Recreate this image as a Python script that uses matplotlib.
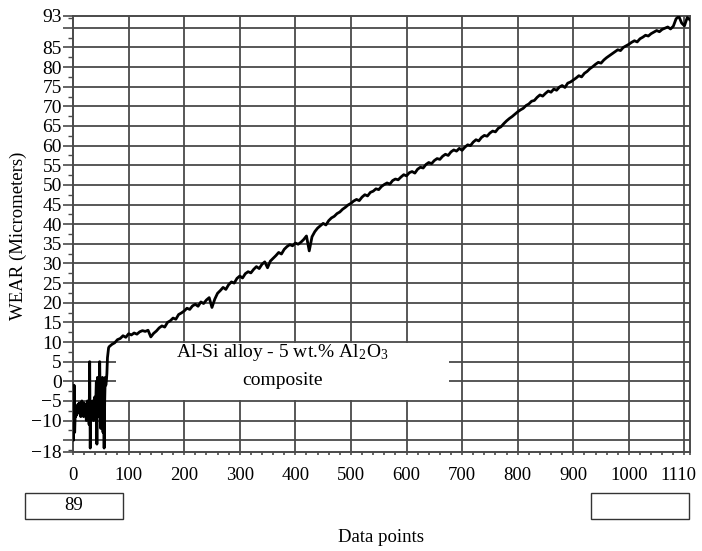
import matplotlib
matplotlib.use("Agg")
import matplotlib.pyplot as plt
import matplotlib.transforms as mtransforms
from matplotlib.patches import Rectangle

plt.rcParams['font.family'] = ['Liberation Serif', 'DejaVu Serif']
plt.rcParams['mathtext.fontset'] = 'stix'

# noisy start of the run (data points 0..64)
start_points = [0, 1, 2, 3, 4, 5, 6, 7, 8, 9, 10, 11, 12, 13, 14, 15, 16, 17, 18, 19,
                20, 21, 22, 23, 24, 25, 26, 27, 28, 29, 30, 31, 32, 33, 34, 35, 36, 37, 38, 39,
                40, 41, 42, 43, 44, 45, 46, 47, 48, 49, 50, 51, 52, 53, 54, 55, 56, 57, 58, 59,
                60, 61, 62, 64]
start_wear = [-12, -15, -1, -13, -8, -9, -7, -8.5, -6, -8, -7, -5.5, -8, -6, -9, -6.5, -5, -8, -6, -9,
              -5.5, -7, -6, -8, -10, -7, -5, -8, -6, -11, 5, -17, -6, -9, -7, -5, -8, -10, -6, -4,
              -7, -5, 0, -16, 1, -9, -4, -6, 5, -5, -12, -3, -6, 1, -13, -2, -17, -5, 1, -1,
              0, 2, 6, 8.5]

# steady wear part (every 5 data points)
run_points = [65, 70, 75, 80, 85, 90, 95, 100, 105, 110, 115, 120, 125, 130, 135, 140, 145, 150,
              155, 160, 165, 170, 175, 180, 185, 190, 195, 200, 205, 210, 215, 220, 225, 230,
              235, 240, 245, 250, 255, 260, 265, 270, 275, 280, 285, 290, 295, 300, 305, 310,
              315, 320, 325, 330, 335, 340, 345, 350, 355, 360, 365, 370, 375, 380, 385, 390,
              395, 400, 405, 410, 415, 420, 425, 430, 435, 440, 445, 450, 455, 460, 465, 470,
              475, 480, 485, 490, 495, 500, 505, 510, 515, 520, 525, 530, 535, 540, 545, 550,
              555, 560, 565, 570, 575, 580, 585, 590, 595, 600, 605, 610, 615, 620, 625, 630,
              635, 640, 645, 650, 655, 660, 665, 670, 675, 680, 685, 690, 695, 700, 705, 710,
              715, 720, 725, 730, 735, 740, 745, 750, 755, 760, 765, 770, 775, 780, 785, 790,
              795, 800, 805, 810, 815, 820, 825, 830, 835, 840, 845, 850, 855, 860, 865, 870,
              875, 880, 885, 890, 895, 900, 905, 910, 915, 920, 925, 930, 935, 940, 945, 950,
              955, 960, 965, 970, 975, 980, 985, 990, 995, 1000, 1005, 1010, 1015, 1020, 1025,
              1030, 1035, 1040, 1045, 1050, 1055, 1060, 1065, 1070, 1075, 1080, 1085, 1090,
              1095, 1100, 1105, 1110]
run_wear = [8.8, 9.4, 9.8, 10.6, 10.9, 11.6, 11.2, 12.1, 11.8, 12.3, 12.0, 12.6, 12.9, 12.7, 13.0,
            11.3, 12.2, 12.8, 13.6, 14.1, 13.8, 15.0, 15.4, 16.1, 15.8, 17.0, 17.4, 17.9, 18.6,
            18.3, 19.2, 19.6, 19.1, 20.2, 19.8, 20.7, 21.3, 18.8, 20.9, 22.4, 23.1, 23.9, 23.4,
            24.6, 25.3, 25.0, 26.2, 26.8, 26.3, 27.4, 27.9, 27.6, 28.5, 29.2, 28.7, 29.8, 30.4,
            28.9, 30.6, 31.3, 32.0, 32.8, 32.4, 33.6, 34.3, 34.8, 34.5, 35.2, 34.9, 35.4, 36.1,
            37.0, 33.2, 36.8, 38.1, 39.0, 39.6, 40.2, 39.8, 40.9, 41.6, 42.0, 42.7, 43.1, 43.8,
            44.3, 44.9, 45.3, 45.9, 46.3, 46.0, 46.9, 47.5, 47.2, 48.1, 48.4, 49.0, 48.8, 49.6,
            50.1, 50.5, 50.2, 51.1, 51.5, 51.3, 52.0, 52.6, 52.3, 53.1, 53.4, 53.0, 54.0, 54.5,
            54.3, 55.2, 55.7, 55.4, 56.2, 56.7, 56.5, 57.3, 57.8, 57.5, 58.4, 58.9, 58.6, 59.3,
            58.8, 59.6, 60.2, 60.0, 60.9, 61.5, 61.2, 62.1, 62.6, 62.4, 63.2, 63.7, 63.5, 64.4,
            64.8, 65.6, 66.3, 66.9, 67.4, 68.0, 68.6, 69.1, 69.5, 70.2, 70.6, 71.3, 71.5, 72.3,
            72.9, 72.6, 73.3, 73.9, 73.6, 74.4, 74.1, 74.9, 75.3, 74.8, 75.9, 76.2, 76.7, 77.2,
            77.8, 77.5, 78.4, 78.9, 79.6, 80.1, 80.7, 81.2, 81.0, 81.8, 82.4, 82.9, 83.4, 83.9,
            84.4, 84.2, 85.0, 85.4, 85.8, 86.3, 86.7, 86.4, 87.2, 87.6, 88.1, 87.9, 88.5, 88.9,
            89.3, 89.0, 89.6, 89.9, 90.2, 89.7, 90.4, 92.3, 92.9, 91.2, 90.5, 92.6, 92.0]

x_ticks = [0, 100, 200, 300, 400, 500, 600, 700, 800, 900, 1000, 1110]
y_ticks = [-18, -15, -10, -5, 0, 5, 10, 15, 20, 25, 30, 35, 40, 45, 50, 55, 60, 65, 70, 75, 80, 85, 90, 93]
y_labels = ['\u221218', '', '\u221210', '\u22125', '0', '5', '10', '15', '20', '25', '30', '35',
            '40', '45', '50', '55', '60', '65', '70', '75', '80', '85', '', '93']

W, H = 702, 551
fig = plt.figure(figsize=(W / 100, H / 100), dpi=100)
ax = fig.add_axes([73 / W, 1 - 452 / H, (690 - 73) / W, (452 - 16) / H])

gc = '#4a4a4a'
for xv in range(100, 1101, 100):
    ax.axvline(xv, color=gc, lw=1.3, zorder=1)
for yv in y_ticks[1:-1]:
    ax.axhline(yv, color=gc, lw=1.3, zorder=1)

# label box covering the grid
ax.add_patch(Rectangle((77, -4.7), 600, 14.4, facecolor='white', edgecolor='none', zorder=2))
ax.text(376, 7.3, r'Al-Si alloy - 5 wt.% Al$_{\mathregular{2}}$O$_{\mathregular{3}}$',
        ha='center', va='center', fontsize=14, zorder=3)
ax.text(376, 0.2, 'composite', ha='center', va='center', fontsize=14, zorder=3)

ax.plot(start_points + run_points, start_wear + run_wear, color='black', lw=2.0, zorder=4)

ax.set_xlim(0, 1110)
ax.set_ylim(-18, 93)
ax.set_xticks(x_ticks)
ax.set_xticks(range(0, 1110, 20), minor=True)
ax.set_yticks(y_ticks)
ax.set_yticklabels(y_labels)
ax.set_yticks([v / 2 for v in range(-35, 186, 5)], minor=True)

ax.tick_params(axis='y', which='major', length=7, width=1.2, color=gc, pad=1, labelsize=14)
ax.tick_params(axis='y', which='minor', length=3.5, width=1.0, color=gc)
ax.tick_params(axis='x', which='both', length=2.5, width=1.2, color=gc, pad=8, labelsize=13.5)
for sp in ax.spines.values():
    sp.set_color(gc)
    sp.set_linewidth(1.4)

# shift the last x label a bit to the left like the original
lab = ax.get_xticklabels()[-1]
lab.set_transform(lab.get_transform() + mtransforms.ScaledTranslation(-12 / 100, 0, fig.dpi_scale_trans))

fig.text(18 / W, 1 - 236 / H, 'WEAR (Micrometers)', rotation=90, ha='center', va='center', fontsize=13.5)
fig.text(381 / W, 1 - 538 / H, 'Data points', ha='center', va='center', fontsize=13.5)

# the two value boxes under the axis
for x0 in (25, 591):
    fig.add_artist(Rectangle((x0 / W, 1 - 519 / H), 98 / W, 26 / H, transform=fig.transFigure,
                             facecolor='white', edgecolor='#333333', lw=1.0))
fig.text(74 / W, 1 - 506 / H, '89', ha='center', va='center', fontsize=13.5)

fig.savefig('out.png', dpi=100)
